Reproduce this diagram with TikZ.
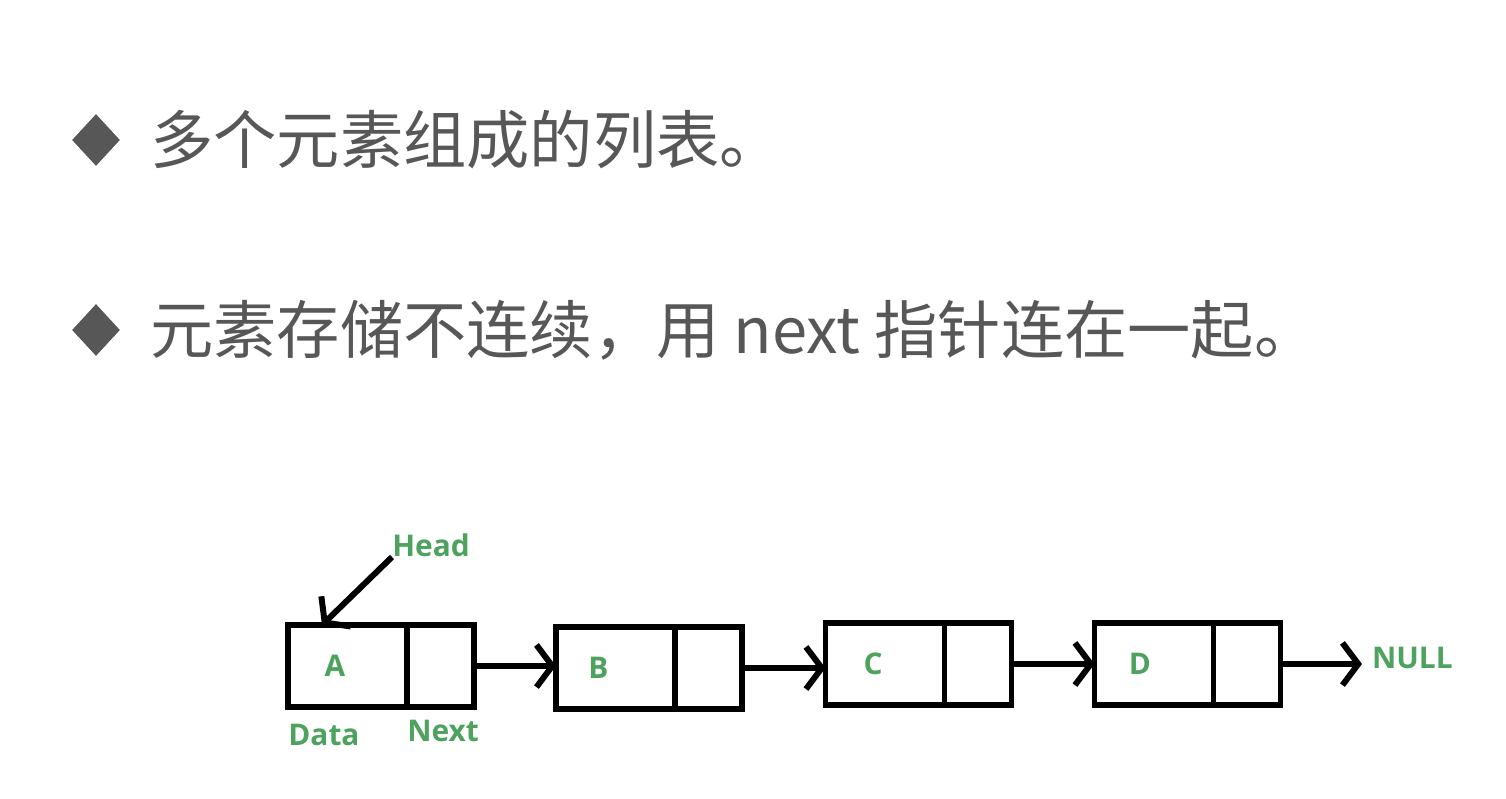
\documentclass[tikz,border=0pt]{standalone}
\usepackage{fontspec}
\usetikzlibrary{arrows.meta,positioning,shapes.geometric}
\newfontfamily\cjk{Noto Sans CJK SC}
\newfontfamily\lblfont{Open Sans}
\definecolor{txtgray}{HTML}{575757}
\definecolor{lblgreen}{HTML}{4DA35E}

\tikzset{
	cell/.style={draw,line width=3.2pt,minimum height=1.64cm,inner sep=0pt,outer sep=0pt},
	datacell/.style={cell,minimum width=2.38cm},
	nextcell/.style={cell,minimum width=1.34cm,anchor=west},
	lbl/.style={text=lblgreen,inner sep=0pt,font=\lblfont\bfseries\fontsize{17}{17}\selectfont},
	link/.style={line width=3.4pt,-{Straight Barb[length=9pt,width=24pt,line width=3.4pt]}},
	bullet/.style={diamond,fill=txtgray,minimum width=0.96cm,minimum height=1.04cm,inner sep=0pt},
	line/.style={text=txtgray,inner sep=0pt,anchor=west,font=\cjk\fontsize{36}{36}\selectfont}
}

\begin{document}
\begin{tikzpicture}[x=0.02cm,y=-0.02cm]
	\useasboundingbox (0,0) rectangle (1506,798);
	% bullets
	\node[bullet] (b1) at (96,140){};
	\node[line] (t1) at (150,140){多个元素组成的列表。};
	\node[bullet] (b2) at (96,330){};
	\node[line] (t2) at (150,330){元素存储不连续，用 next 指针连在一起。};
	%%%%%%%%%%%%%%%%%%%%%%%%%%%%%%%%%
	\node[datacell,label={[lbl,xshift=-0.25cm]center:A}] (a) at (347.5,666){};
	\node[nextcell] (an) at (a.east){};
	\node[datacell,label={[lbl,xshift=-0.34cm]center:B}] (b) at (615.5,668){};
	\node[nextcell] (bn) at (b.east){};
	\node[datacell,label={[lbl,xshift=-0.24cm]center:C}] (c) at (885,664){};
	\node[nextcell] (cn) at (c.east){};
	\node[datacell,label={[lbl,xshift=-0.28cm]center:D}] (d) at (1154,664){};
	\node[nextcell] (dn) at (d.east){};
	%%%%%%%%%%%%%%%%%%%%%%%%%%%%%%%%%
	\node[lbl,anchor=west] (data) at ([yshift=-0.56cm]a.south west){Data};
	\node[lbl,anchor=west] (next) at ([yshift=-0.48cm]an.south west){Next};
	\node[lbl,anchor=south west] (head) at (392,557){Head};
	\node[lbl,anchor=west,outer sep=0.2cm] (null) at (1362,658){NULL};
	%%%%%%%%%%%%%%%%%%%%%%%%%%%%%%%%%
	\draw[link] (head.south west) -- ([xshift=0.68cm]a.north west);
	\draw[link] (an.east) -- (an.east -| b.west);
	\draw[link] (bn.east) -- (bn.east -| c.west);
	\draw[link] (cn.east) -- (cn.east -| d.west);
	\draw[link] (dn.east) -- (dn.east -| null.west);
\end{tikzpicture}
\end{document}
